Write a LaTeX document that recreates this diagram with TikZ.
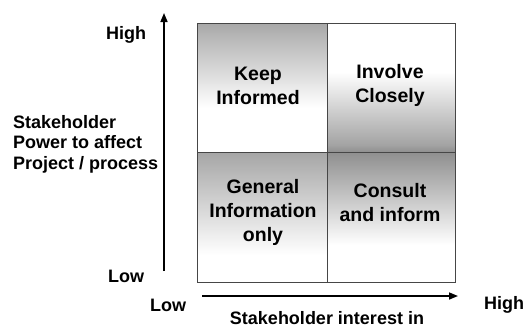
\documentclass[tikz,border=0pt]{standalone}
\usepackage{fontspec}
\setmainfont{Liberation Sans}
\usetikzlibrary{arrows.meta}
\begin{document}
\begin{tikzpicture}[x=1pt,y=-1pt,
  axislbl/.style={font=\bfseries\fontsize{18}{20.5}\selectfont, inner sep=0pt},
  quadlbl/.style={font=\bfseries\fontsize{19.5}{24}\selectfont, align=center, inner sep=0pt},
  axisarrow/.style={line width=1.6pt, -{Triangle[length=9pt,width=7pt]}},
  cellborder/.style={draw=gray!55!black, line width=0.8pt}]
\useasboundingbox (0,0) rectangle (530,327);
% quadrant fills
% top-left
\shade[top color=gray!68, bottom color=white] (197,23) rectangle (327,108);
\fill[white] (197,108) rectangle (327,152);
% top-right
\fill[white] (327,23) rectangle (455,72);
\shade[top color=white, bottom color=gray!72] (327,72) rectangle (455,145);
\shade[top color=gray!72, bottom color=gray!88] (327,145) rectangle (455,152);
% bottom-left
\shade[top color=gray!70, bottom color=white] (197,152) rectangle (327,255);
\fill[white] (197,255) rectangle (327,282);
% bottom-right
\shade[top color=gray!88, bottom color=white] (327,152) rectangle (455,245);
\fill[white] (327,245) rectangle (455,282);
% grid lines
\draw[cellborder] (197,23) rectangle (455,282);
\draw[cellborder] (327,23) -- (327,282);
\draw[cellborder] (197,152) -- (455,152);
% axes
\coordinate (vstart) at (164,271);
\coordinate (vend) at (164,13);
\coordinate (hstart) at (202,296);
\coordinate (hend) at (458,296);
\draw[axisarrow] (vstart) -- (vend);
\draw[axisarrow] (hstart) -- (hend);
% axis labels
\node[axislbl] (highy) at (126,35) {High};
\node[axislbl] (lowy) at (126,276) {Low};
\node[axislbl] (lowx) at (168,305) {Low};
\node[axislbl] (highx) at (504,305) {High};
\node[axislbl, anchor=base] (xlabel) at (327,324) {Stakeholder interest in};
\node[axislbl, align=left, anchor=west] (ylabel) at (13,144) {Stakeholder\\Power to affect\\Project / process};
% quadrant labels
\node[quadlbl] (keep) at (258,86) {Keep\\Informed};
\node[quadlbl] (involve) at (390,85) {Involve\\Closely};
\node[quadlbl] (general) at (263,212) {General\\Information\\only};
\node[quadlbl] (consult) at (390,203) {Consult\\and inform};
\end{tikzpicture}
\end{document}
